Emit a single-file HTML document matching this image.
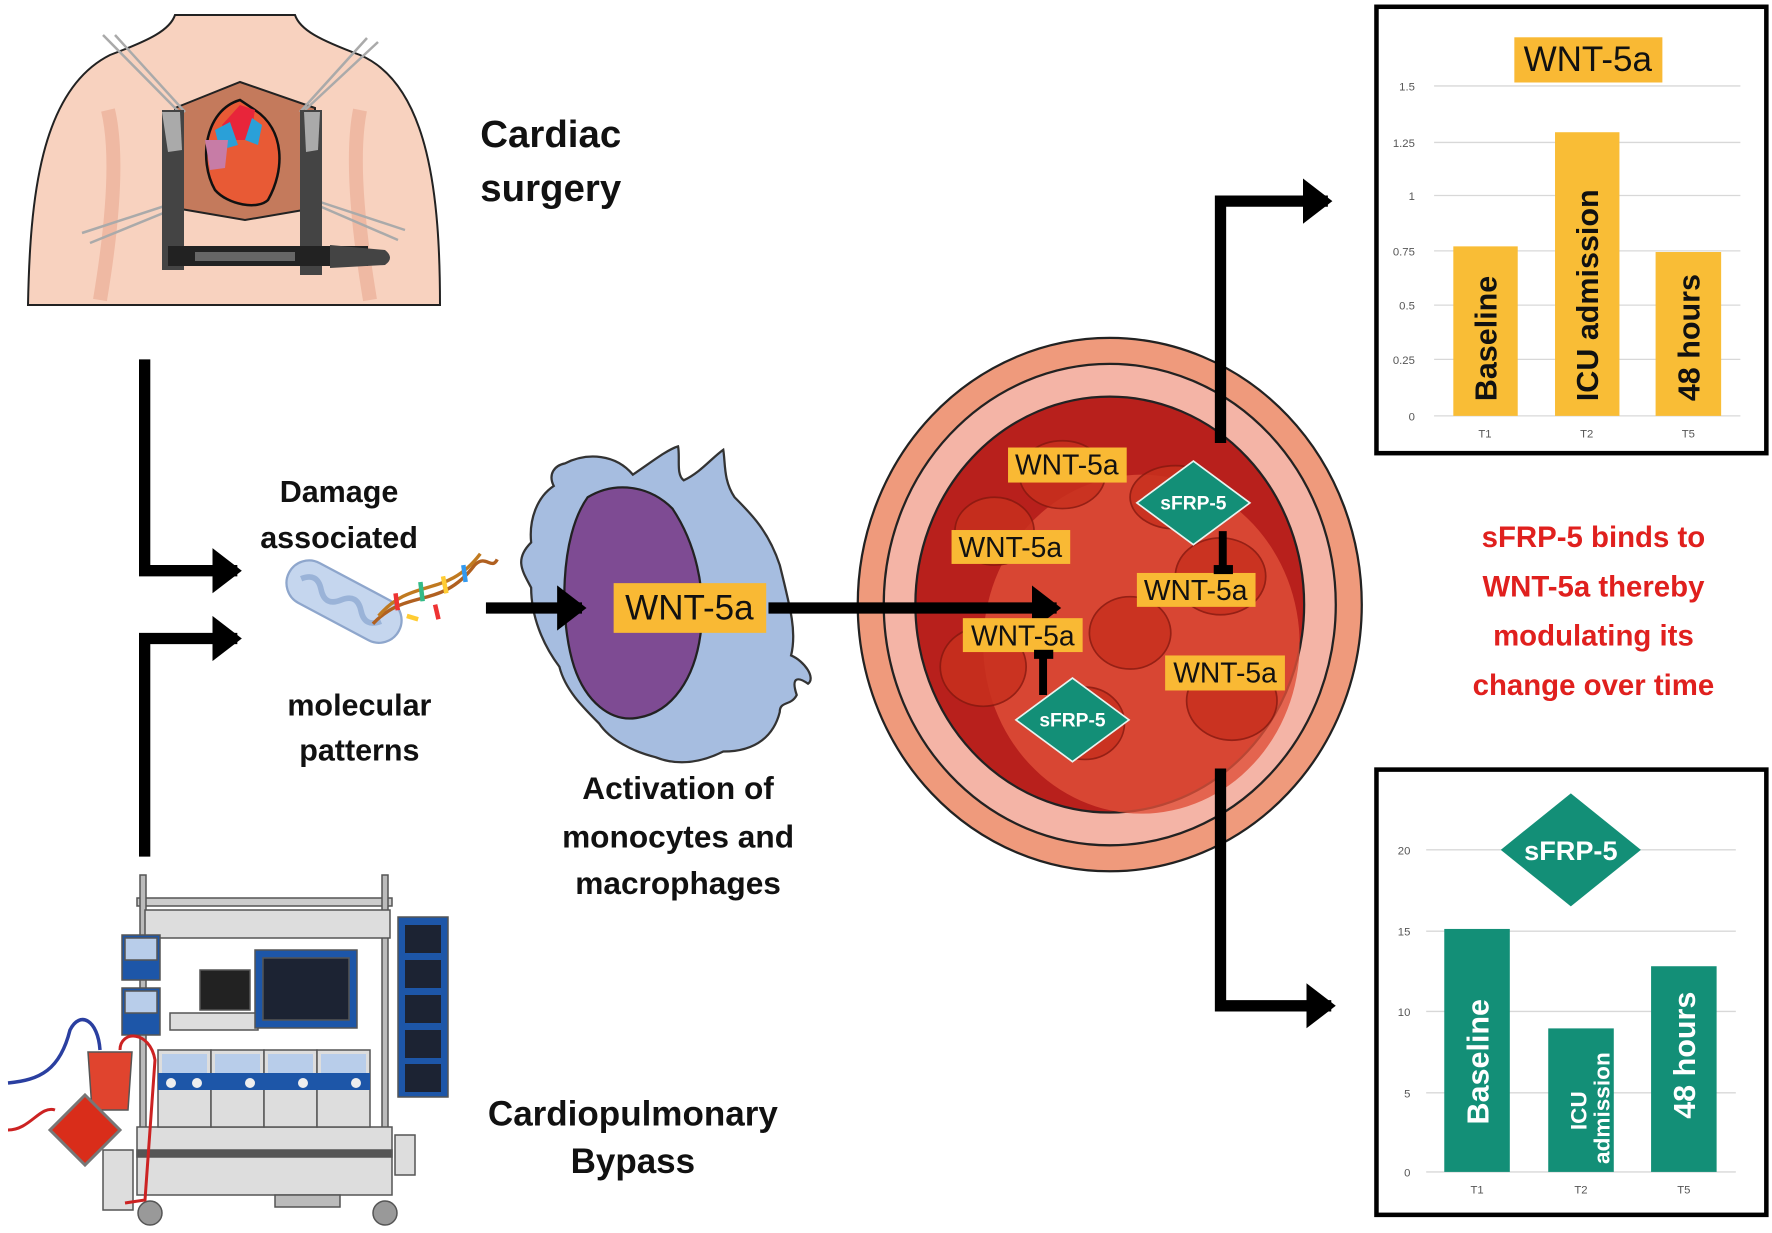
<!DOCTYPE html>
<html><head><meta charset="utf-8"><style>
html,body{margin:0;padding:0;background:#fff}
svg{display:block}
text{font-family:"Liberation Sans",Arial,sans-serif}
</style></head><body>
<svg width="1772" height="1233" viewBox="0 0 1772 1233" xmlns="http://www.w3.org/2000/svg">
<defs>
<marker id="ah" markerWidth="4" markerHeight="4" refX="2.2" refY="2" orient="auto" markerUnits="strokeWidth"><path d="M0,0 L2.6,2 L0,4 z" fill="#000"/></marker>
</defs>

<!-- ===== Surgery illustration (actual coords) ===== -->
<g stroke="#222" stroke-width="2">
<path d="M28,305 C30,200 40,90 110,55 C150,40 170,30 175,15 L295,15 C300,30 320,40 360,55 C430,85 440,200 440,305 Z" fill="#f8d2bf"/>
</g>
<path d="M108,110 C120,160 110,240 100,300" stroke="#efb9a3" stroke-width="14" fill="none"/>
<path d="M360,110 C350,160 360,240 370,300" stroke="#efb9a3" stroke-width="14" fill="none"/>
<path d="M175,108 L240,82 L315,108 L315,208 L245,220 L175,208 Z" fill="#c47a5c" stroke="#222" stroke-width="2"/>
<path d="M240,100 C205,110 198,160 215,190 C228,205 258,210 268,200 C285,170 285,130 255,110 Z" fill="#e85a35" stroke="#111" stroke-width="2.5"/>
<path d="M222,125 L240,105 L255,110 L250,140 L230,140 Z" fill="#e8253a"/>
<path d="M215,130 L230,122 L238,145 L220,150 Z" fill="#2aa0d8"/>
<path d="M252,118 L262,125 L258,145 L245,140 Z" fill="#2aa0d8"/>
<path d="M205,140 L228,140 L225,168 L210,170 Z" fill="#c77ca6"/>
<g stroke="#aaa" stroke-width="2.5">
<line x1="103" y1="35" x2="182" y2="115"/><line x1="115" y1="35" x2="185" y2="112"/>
<line x1="367" y1="38" x2="300" y2="112"/><line x1="378" y1="42" x2="305" y2="110"/>
<line x1="82" y1="233" x2="183" y2="200"/><line x1="90" y1="243" x2="183" y2="205"/>
<line x1="305" y1="197" x2="405" y2="230"/><line x1="310" y1="202" x2="398" y2="240"/>
</g>
<rect x="162" y="110" width="22" height="160" fill="#444"/>
<rect x="300" y="110" width="22" height="165" fill="#444"/>
<path d="M162,112 L180,112 L182,150 L168,152 Z" fill="#aaa"/>
<path d="M304,112 L320,112 L318,150 L306,152 Z" fill="#aaa"/>
<rect x="168" y="246" width="200" height="20" fill="#222"/>
<rect x="195" y="252" width="100" height="9" fill="#666"/>
<path d="M330,245 L385,250 Q395,258 385,265 L330,268 Z" fill="#444"/>

<!-- ===== CPB machine (actual coords) ===== -->
<g stroke="#555" stroke-width="1.5">
<rect x="137" y="898" width="255" height="8" fill="#ccc"/>
<rect x="140" y="875" width="6" height="300" fill="#bbb"/>
<rect x="382" y="875" width="6" height="270" fill="#bbb"/>
<rect x="145" y="910" width="245" height="28" fill="#ddd"/>
<rect x="122" y="935" width="38" height="45" fill="#1d56a8"/>
<rect x="125" y="938" width="32" height="22" fill="#b8cdea"/>
<rect x="122" y="988" width="38" height="47" fill="#1d56a8"/>
<rect x="125" y="991" width="32" height="22" fill="#b8cdea"/>
<rect x="170" y="1013" width="88" height="17" fill="#ddd"/>
<rect x="200" y="970" width="50" height="40" fill="#222"/>
<rect x="255" y="950" width="102" height="78" fill="#1d56a8"/>
<rect x="263" y="958" width="86" height="62" fill="#1c2333"/>
<rect x="398" y="917" width="50" height="180" fill="#1d56a8"/>
<rect x="137" y="1127" width="255" height="68" fill="#ddd"/>
<rect x="137" y="1150" width="255" height="7" fill="#555"/>
<rect x="275" y="1195" width="65" height="12" fill="#bbb"/>
<circle cx="150" cy="1213" r="12" fill="#999"/>
<circle cx="385" cy="1213" r="12" fill="#999"/>
<rect x="103" y="1150" width="30" height="60" fill="#ddd"/>
<rect x="395" y="1135" width="20" height="40" fill="#ddd"/>
</g>
<g fill="#1c2333">
<rect x="405" y="925" width="36" height="28"/><rect x="405" y="960" width="36" height="28"/><rect x="405" y="995" width="36" height="28"/><rect x="405" y="1030" width="36" height="28"/><rect x="405" y="1064" width="36" height="28"/>
</g>
<g stroke="#555" stroke-width="1.5">
<rect x="158" y="1050" width="53" height="77" fill="#ddd"/><rect x="211" y="1050" width="53" height="77" fill="#ddd"/><rect x="264" y="1050" width="53" height="77" fill="#ddd"/><rect x="317" y="1050" width="53" height="77" fill="#ddd"/>
</g>
<g fill="#b8cdea"><rect x="162" y="1054" width="45" height="19"/><rect x="215" y="1054" width="45" height="19"/><rect x="268" y="1054" width="45" height="19"/><rect x="321" y="1054" width="45" height="19"/></g>
<rect x="158" y="1073" width="212" height="17" fill="#1d56a8"/>
<g fill="#eee"><circle cx="171" cy="1083" r="5"/><circle cx="197" cy="1083" r="5"/><circle cx="250" cy="1083" r="5"/><circle cx="303" cy="1083" r="5"/><circle cx="356" cy="1083" r="5"/></g>
<path d="M88,1052 L132,1052 L128,1110 L92,1110 Z" fill="#e0442e" stroke="#555" stroke-width="1.5"/>
<path d="M85,1095 L120,1130 L85,1165 L50,1130 Z" fill="#d92d1a" stroke="#777" stroke-width="3"/>
<path d="M8,1083 C40,1080 60,1070 70,1030 C80,1010 98,1020 100,1050" stroke="#2a3fa0" stroke-width="3.5" fill="none"/>
<path d="M8,1130 C30,1130 40,1105 55,1110 M120,1050 C120,1030 150,1030 155,1060 L145,1200 L125,1203" stroke="#c22" stroke-width="3" fill="none"/>

<g transform="scale(1.1301)">
<g font-weight="bold" fill="#111" font-size="34">
<text x="425" y="130">Cardiac</text>
<text x="425" y="178">surgery</text>
<text x="560" y="996" text-anchor="middle" font-size="31">Cardiopulmonary</text>
<text x="560" y="1038" text-anchor="middle" font-size="31">Bypass</text>
</g>
<g font-weight="bold" fill="#111" font-size="27" text-anchor="middle">
<text x="300" y="444">Damage</text>
<text x="300" y="485">associated</text>
<text x="318" y="633">molecular</text>
<text x="318" y="673">patterns</text>
<text x="600" y="707" font-size="28">Activation of</text>
<text x="600" y="750" font-size="28">monocytes and</text>
<text x="600" y="791" font-size="28">macrophages</text>
</g>
<g font-weight="bold" fill="#e0201e" font-size="26" text-anchor="middle">
<text x="1410" y="484">sFRP-5 binds to</text>
<text x="1410" y="528">WNT-5a thereby</text>
<text x="1410" y="571">modulating its</text>
<text x="1410" y="615">change over time</text>
</g>

<!-- DAMP icon -->
<g transform="rotate(28 300 530)">
<rect x="250" y="510" width="110" height="40" rx="20" fill="#c5d6ee" stroke="#8ea6cc" stroke-width="2"/>
<path d="M262,530 q10,-12 20,0 t20,0 t20,0 t20,0" stroke="#9ab3d8" stroke-width="5" fill="none"/>
</g>
<path d="M330,552 C360,520 390,540 420,500 C430,490 435,505 440,495" stroke="#b06020" stroke-width="3" fill="none"/>
<path d="M335,545 C365,510 395,530 425,490" stroke="#c07a20" stroke-width="3" fill="none"/>
<g stroke-width="4"><line x1="350" y1="525" x2="352" y2="540" stroke="#e33"/><line x1="372" y1="515" x2="374" y2="532" stroke="#3b8"/><line x1="392" y1="510" x2="395" y2="525" stroke="#fc3"/><line x1="410" y1="500" x2="412" y2="515" stroke="#39e"/><line x1="360" y1="545" x2="370" y2="548" stroke="#fc3"/><line x1="385" y1="535" x2="388" y2="548" stroke="#e33"/></g>

<!-- Cell -->
<path d="M500,410 C520,400 545,402 560,420 C575,410 590,398 600,395 C602,405 598,420 605,425 C620,418 630,405 640,398 C642,410 640,425 650,440 C665,455 680,470 690,500 C700,540 705,560 700,580 C712,585 722,600 715,605 C705,598 700,600 705,615 C700,625 690,620 690,630 C685,650 670,665 640,665 C620,675 600,678 580,670 C560,665 540,655 530,640 C515,625 500,610 495,590 C480,570 470,545 470,520 C462,505 455,495 470,480 C468,460 475,440 490,430 C485,420 490,412 500,410 Z" fill="#a6bde0" stroke="#333" stroke-width="2"/>
<path d="M520,440 C545,425 575,430 595,450 C615,480 625,520 620,560 C615,600 595,630 565,635 C540,640 518,620 508,590 C495,550 495,475 520,440 Z" fill="#7e4b93" stroke="#222" stroke-width="2"/>

<!-- Vessel -->
<ellipse cx="982" cy="535" rx="223" ry="236" fill="#ef9a7c" stroke="#222" stroke-width="2"/>
<ellipse cx="982" cy="535" rx="200" ry="213" fill="#f4b4a6" stroke="#222" stroke-width="2"/>
<ellipse cx="982" cy="535" rx="172" ry="184" fill="#b8201c" stroke="#222" stroke-width="2"/>
<ellipse cx="1010" cy="570" rx="140" ry="150" fill="#e0503a" opacity="0.8"/>
<g fill="#c8301e" stroke="#8a1a10" stroke-width="1.5" opacity="0.85">
<ellipse cx="880" cy="470" rx="35" ry="30"/><ellipse cx="940" cy="420" rx="38" ry="30"/><ellipse cx="870" cy="590" rx="38" ry="35"/><ellipse cx="960" cy="640" rx="35" ry="32"/><ellipse cx="1080" cy="510" rx="40" ry="34"/><ellipse cx="1090" cy="620" rx="40" ry="35"/><ellipse cx="1000" cy="560" rx="36" ry="32"/><ellipse cx="1040" cy="440" rx="40" ry="28"/>
</g>

<!-- connectors (on top) -->
<g stroke="#000" stroke-width="10" fill="none">
<polyline points="128,318 128,505 210,505" marker-end="url(#ah)"/>
<polyline points="128,758 128,565 210,565" marker-end="url(#ah)"/>
<line x1="430" y1="538" x2="515" y2="538" marker-end="url(#ah)"/>
<line x1="680" y1="538" x2="935" y2="538" marker-end="url(#ah)"/>
<polyline points="1080,392 1080,178 1175,178" marker-end="url(#ah)"/>
<polyline points="1080,680 1080,890 1178,890" marker-end="url(#ah)"/>
</g>

<!-- labels -->
<g font-size="25" fill="#111">
<rect x="543" y="516" width="135" height="44" fill="#f9b934"/><text x="610" y="548" text-anchor="middle" font-size="31">WNT-5a</text>
<rect x="892" y="396" width="105" height="31" fill="#f9b934"/><text x="944" y="420" text-anchor="middle">WNT-5a</text>
<rect x="842" y="469" width="105" height="30" fill="#f9b934"/><text x="894" y="493" text-anchor="middle">WNT-5a</text>
<rect x="1006" y="507" width="105" height="30" fill="#f9b934"/><text x="1058" y="531" text-anchor="middle">WNT-5a</text>
<rect x="852" y="547" width="106" height="30" fill="#f9b934"/><text x="905" y="571" text-anchor="middle">WNT-5a</text>
<rect x="1031" y="580" width="106" height="31" fill="#f9b934"/><text x="1084" y="604" text-anchor="middle">WNT-5a</text>
</g>
<g stroke="#000" stroke-width="7"><line x1="1082" y1="470" x2="1082" y2="505"/><line x1="923" y1="615" x2="923" y2="582"/></g>
<g fill="#000"><rect x="1074" y="500" width="17" height="8"/><rect x="915" y="575" width="17" height="8"/></g>
<g fill="#138f77" stroke="#e8f4f0" stroke-width="1.5">
<path d="M1056,408 L1106,445 L1056,482 L1006,445 Z"/><path d="M949,600 L999,637 L949,674 L899,637 Z"/>
</g>
<g fill="#fff" font-weight="bold" font-size="17" text-anchor="middle"><text x="1056" y="451">sFRP-5</text><text x="949" y="643">sFRP-5</text></g>

<!-- Chart 1 -->
<rect x="1218" y="6" width="345" height="395" fill="#fff" stroke="#000" stroke-width="4"/>
<g stroke="#d8d8d8" stroke-width="1.2"><line x1="1269" y1="76" x2="1540" y2="76"/><line x1="1269" y1="126" x2="1540" y2="126"/><line x1="1269" y1="173" x2="1540" y2="173"/><line x1="1269" y1="222" x2="1540" y2="222"/><line x1="1269" y1="270" x2="1540" y2="270"/><line x1="1269" y1="318" x2="1540" y2="318"/><line x1="1269" y1="368" x2="1540" y2="368"/></g>
<g fill="#f9bd36"><rect x="1286" y="218" width="57" height="150"/><rect x="1376" y="117" width="57" height="251"/><rect x="1465" y="223" width="58" height="145"/></g>
<g font-size="10" fill="#555" text-anchor="end"><text x="1252" y="80">1.5</text><text x="1252" y="130">1.25</text><text x="1252" y="177">1</text><text x="1252" y="226">0.75</text><text x="1252" y="274">0.5</text><text x="1252" y="322">0.25</text><text x="1252" y="372">0</text></g>
<g font-size="10" fill="#555" text-anchor="middle"><text x="1314" y="387">T1</text><text x="1404" y="387">T2</text><text x="1494" y="387">T5</text></g>
<rect x="1340" y="33" width="131" height="40" fill="#f9b934"/><text x="1405" y="63" text-anchor="middle" font-size="31" fill="#111">WNT-5a</text>
<g font-weight="bold" font-size="27" fill="#111"><text transform="translate(1324,355) rotate(-90)">Baseline</text><text transform="translate(1414,355) rotate(-90)">ICU admission</text><text transform="translate(1504,355) rotate(-90)">48 hours</text></g>

<!-- Chart 2 -->
<rect x="1218" y="681" width="345" height="394" fill="#fff" stroke="#000" stroke-width="4"/>
<g stroke="#d8d8d8" stroke-width="1.2"><line x1="1262" y1="752" x2="1536" y2="752"/><line x1="1262" y1="824" x2="1536" y2="824"/><line x1="1262" y1="895" x2="1536" y2="895"/><line x1="1262" y1="967" x2="1536" y2="967"/><line x1="1262" y1="1037" x2="1536" y2="1037"/></g>
<g fill="#138f77"><rect x="1278" y="822" width="58" height="215"/><rect x="1370" y="910" width="58" height="127"/><rect x="1461" y="855" width="58" height="182"/></g>
<g font-size="10" fill="#555" text-anchor="end"><text x="1248" y="756">20</text><text x="1248" y="828">15</text><text x="1248" y="899">10</text><text x="1248" y="971">5</text><text x="1248" y="1041">0</text></g>
<g font-size="10" fill="#555" text-anchor="middle"><text x="1307" y="1056">T1</text><text x="1399" y="1056">T2</text><text x="1490" y="1056">T5</text></g>
<path d="M1390,702 L1452,752 L1390,802 L1328,752 Z" fill="#138f77"/>
<text x="1390" y="761" text-anchor="middle" font-weight="bold" font-size="24" fill="#fff">sFRP-5</text>
<g font-weight="bold" font-size="27" fill="#fff"><text transform="translate(1317,995) rotate(-90)">Baseline</text><text transform="translate(1404,1000) rotate(-90)" font-size="20">ICU</text><text transform="translate(1424,1030) rotate(-90)" font-size="20">admission</text><text transform="translate(1500,990) rotate(-90)">48 hours</text></g>
</g>
</svg>
</body></html>
